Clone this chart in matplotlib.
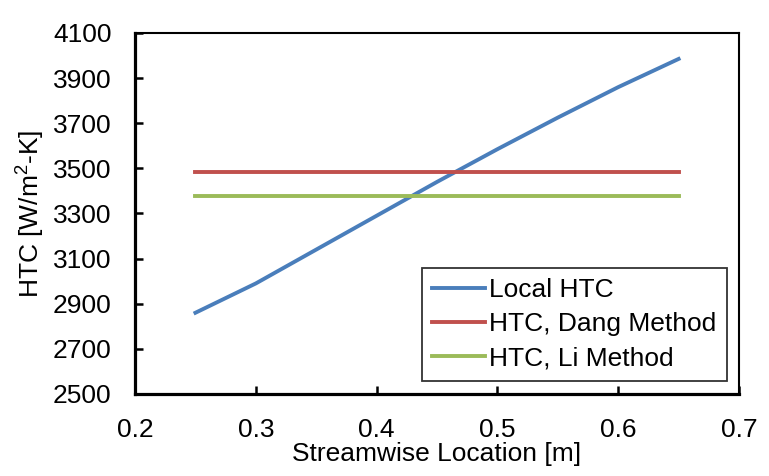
import matplotlib
matplotlib.use('Agg')
import matplotlib.pyplot as plt

plt.rcParams['font.family'] = ['Liberation Sans', 'DejaVu Sans']
plt.rcParams['mathtext.fontset'] = 'custom'
plt.rcParams['mathtext.rm'] = 'Liberation Sans'
plt.rcParams['mathtext.it'] = 'Liberation Sans'

# streamwise position and heat transfer coefficients
location = [0.25, 0.30, 0.35, 0.40, 0.45, 0.50, 0.55, 0.60, 0.65]
local_htc = [2860, 2990, 3140, 3290, 3440, 3585, 3725, 3860, 3985]
dang_htc = 3484
li_htc = 3378

x_ticks = [0.2, 0.3, 0.4, 0.5, 0.6, 0.7]
y_ticks = [2500, 2700, 2900, 3100, 3300, 3500, 3700, 3900, 4100]

fs = 19

fig = plt.figure(figsize=(7.69, 4.76), dpi=100)
ax = fig.add_axes([0.1756, 0.1723, 0.7854, 0.7584])

ax.plot(location, local_htc, color='#4a7ebb', lw=2.8, label='Local HTC')
ax.plot([location[0], location[-1]], [dang_htc, dang_htc], color='#c0504d', lw=2.8,
        label='HTC, Dang Method')
ax.plot([location[0], location[-1]], [li_htc, li_htc], color='#9bbb59', lw=2.8,
        label='HTC, Li Method')

ax.set_xlim(0.2, 0.7)
ax.set_ylim(2500, 4100)
ax.set_xticks(x_ticks)
ax.set_yticks(y_ticks)
ax.set_xticklabels([f'{v:g}' for v in x_ticks])
ax.tick_params(direction='in', length=6, width=1.8, labelsize=fs, top=False, right=False)
ax.tick_params(axis='x', pad=17)
ax.tick_params(axis='y', pad=17)

for side in ['left', 'bottom']:
    ax.spines[side].set_linewidth(2.3)
for side in ['top', 'right']:
    ax.spines[side].set_linewidth(1.5)

ax.set_xlabel('Streamwise Location [m]', fontsize=fs, labelpad=0)
ax.set_ylabel('HTC [W/m$^{2}$-K]', fontsize=fs, labelpad=4)

leg = ax.legend(loc='lower right', bbox_to_anchor=(0.98, 0.036), fontsize=fs,
                frameon=True, fancybox=False, edgecolor='black', handlelength=2.0,
                handletextpad=0.15, borderpad=0.4, labelspacing=0.38, borderaxespad=0)
leg.get_frame().set_linewidth(1.3)

fig.savefig('out.png', dpi=100)
